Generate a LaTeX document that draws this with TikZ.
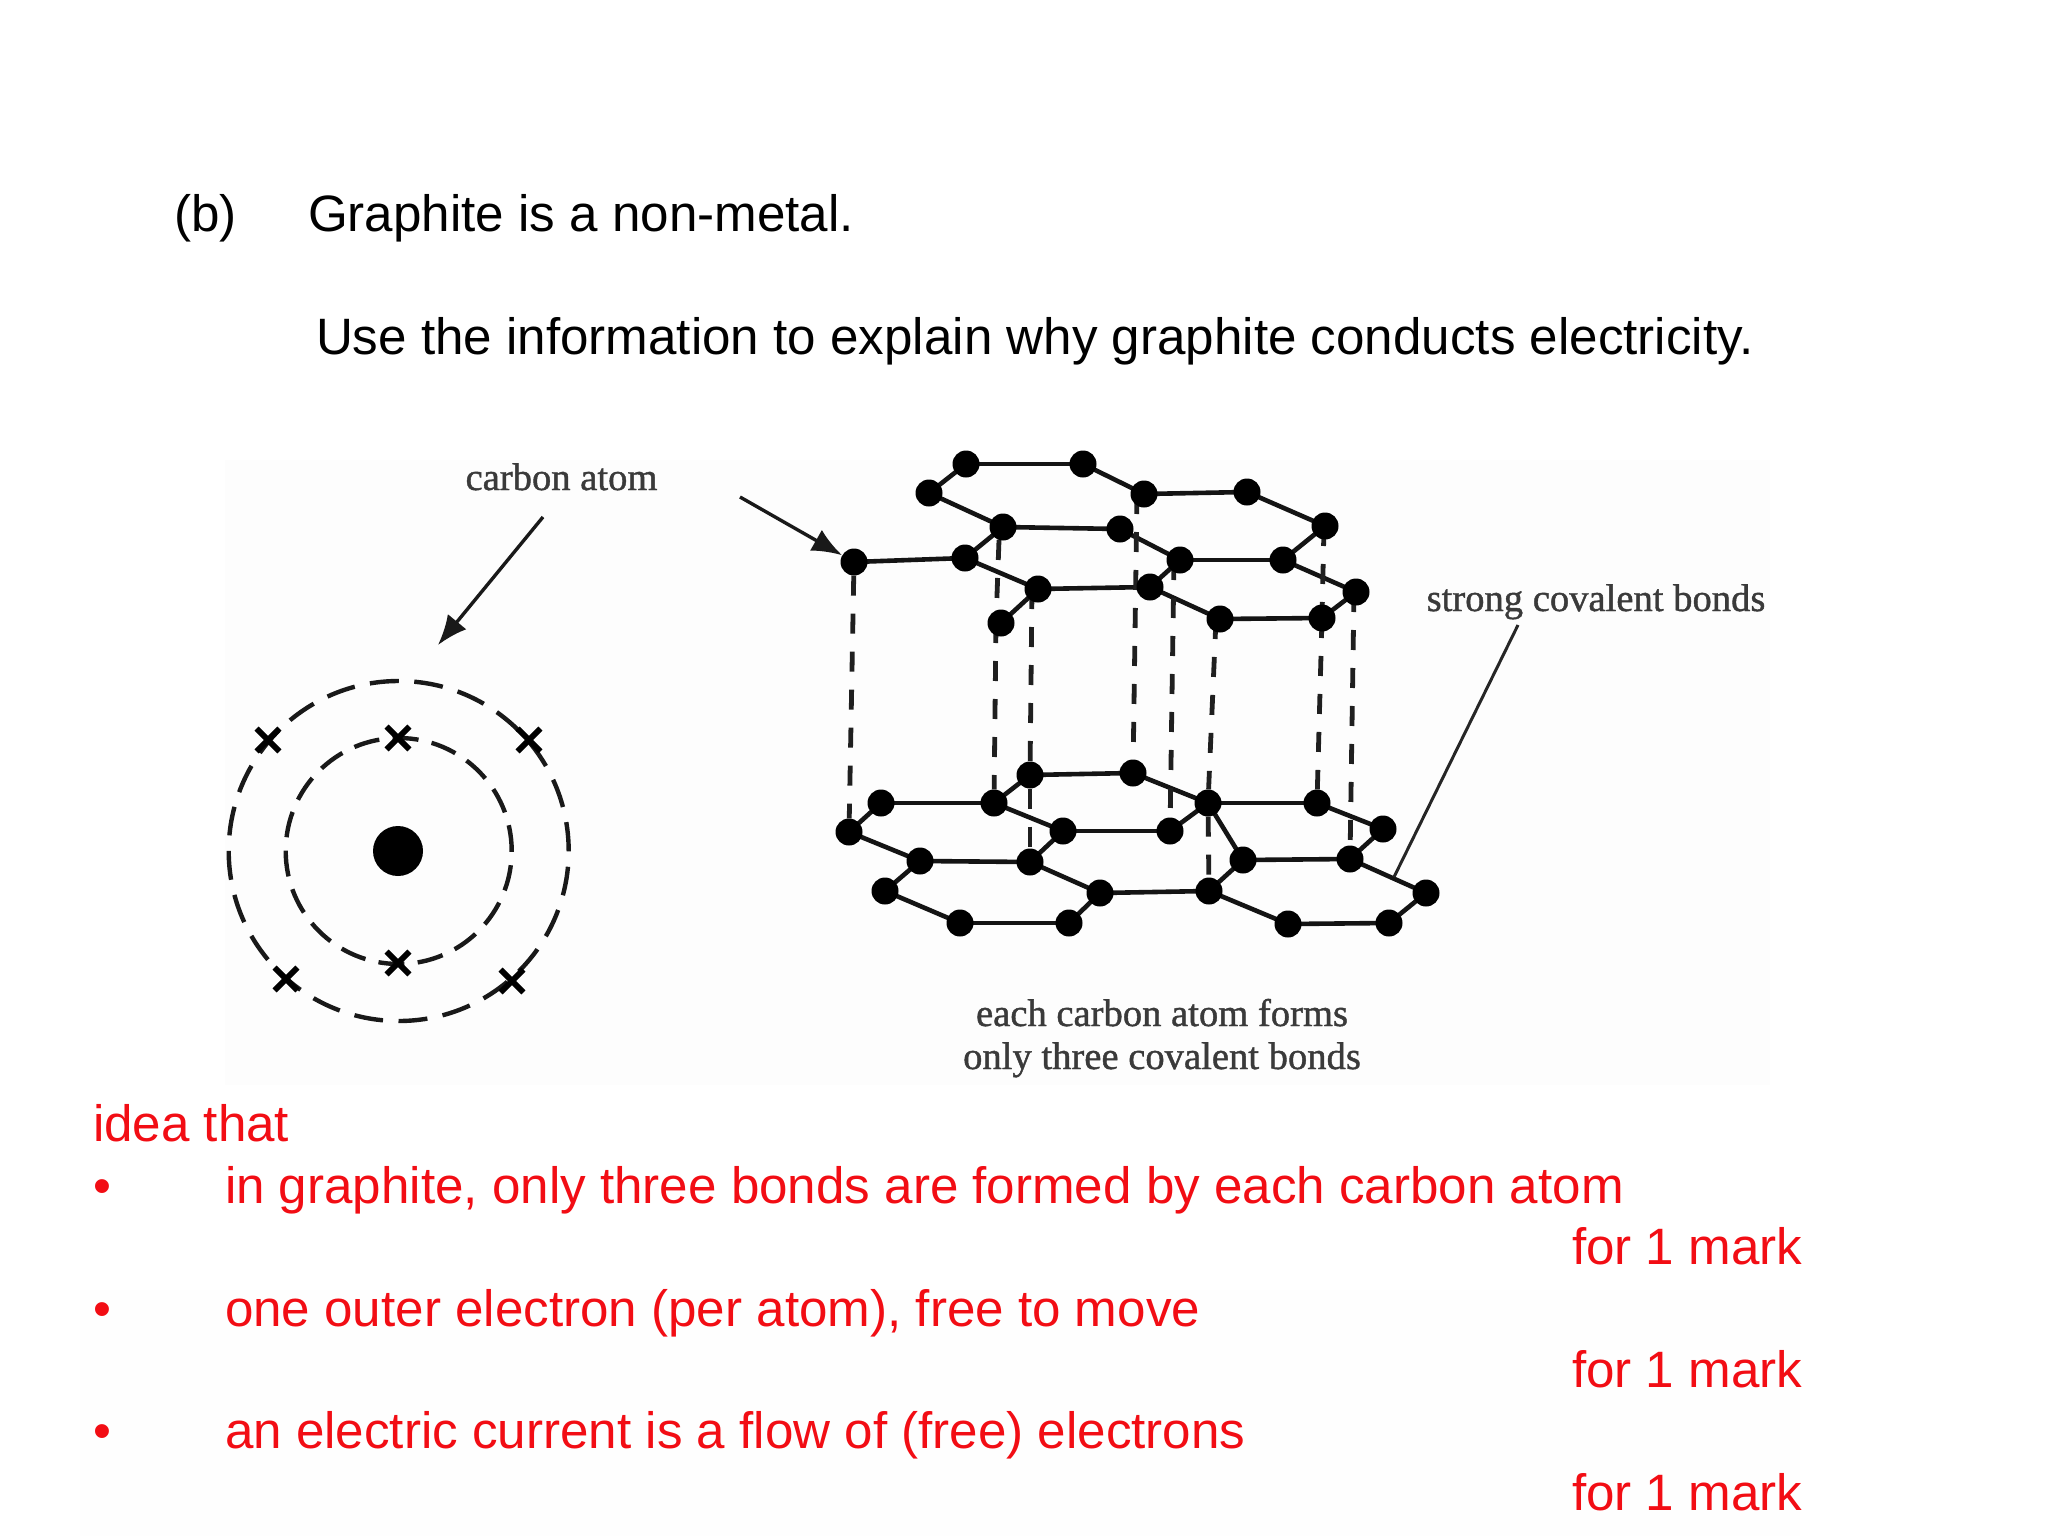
\documentclass[tikz,border=0pt]{standalone}
\usepackage{fontspec}
\setmainfont{Liberation Sans}
\newfontfamily\labfont[FakeBold=1.1]{Liberation Serif}
\usetikzlibrary{arrows.meta,shapes.misc,backgrounds}
\definecolor{ansred}{HTML}{F20D14}
\definecolor{labgrey}{HTML}{3A3A3A}
\tikzset{
  txt/.style={anchor=base west,inner sep=0pt,outer sep=0pt,font=\fontsize{51.15}{60}\selectfont,text=black},
  ans/.style={txt,text=ansred},
  lab/.style={anchor=base,inner sep=0pt,outer sep=0pt,font=\labfont\fontsize{38.6}{44}\selectfont,text=labgrey},
  atom/.style={circle,fill=black,inner sep=0pt,minimum size=27pt},
  bond/.style={line width=4.6pt,black!92},
  vdash/.style={line width=4.8pt,black!88,dash pattern=on 20pt off 18pt},
  ringa/.style={circle,draw=black!90,line width=4.4pt,inner sep=0pt,minimum size=340pt,dash pattern=on 29pt off 15.5pt},
  ringb/.style={circle,draw=black!90,line width=4.4pt,inner sep=0pt,minimum size=226pt,dash pattern=on 26pt off 13.4pt},
  elec/.style={cross out,draw=black,line width=5.8pt,inner sep=0pt,minimum size=17pt},
  thinline/.style={line width=3pt,black!85},
  pointer/.style={line width=3.4pt,black!90,-{Latex[length=30pt,width=24pt]}}
}
\begin{document}
\begin{tikzpicture}[x=1pt,y=-1pt]
\useasboundingbox (0,0) rectangle (2048,1536);
% question text
\node[txt] (qb) at (174,231) {(b)};
\node[txt] (q1) at (308,231) {Graphite is a non-metal.};
\node[txt] (q2) at (316,354) {Use the information to explain why graphite conducts electricity.};
% atom diagram
\node[ringa] (outer) at (398.7,851) {};
\node[ringb] (inner) at (398.7,851) {};
\node[circle,fill=black,inner sep=0pt,minimum size=50pt] (nuc) at (398,851) {};
\foreach \n/\p in {e1/{268,740},e2/{529,740},e3/{286,979},e4/{512,981},e5/{398,738},e6/{398,963}}
  \node[elec] (\n) at (\p) {};
\node[lab] (lcarbon) at (561.5,490) {carbon atom};
\coordinate (arrAs) at (543,517);
\coordinate (arrAe) at (438,645);
\draw[pointer] (arrAs) -- (arrAe);
% upper sheet atoms
\foreach \n/\p in {a1/{966,464},a2/{1083,464},a3/{1144,494},a4/{1247,492},a5/{1325,526},a6/{929,493},a7/{1003,527},a8/{1120,529},a9/{1180,560},a10/{1283,560},a11/{1356,592},a12/{965,558},a13/{854,562},a14/{1038,589},a15/{1150,587},a16/{1220,619},a17/{1322,618},a18/{1001,623}}
  \node[atom] (\n) at (\p) {};
% lower sheet atoms
\foreach \n/\p in {b1/{849,832},b2/{881,803},b3/{994,803},b4/{1030,775},b5/{1133,773},b6/{1208,803},b7/{1317,803},b8/{1383,829},b9/{1063,831},b10/{1170,831},b11/{920,861},b12/{1030,862},b13/{1243,860},b14/{1350,859},b15/{1100,893},b16/{1209,891},b17/{1426,893},b18/{885,891},b19/{960,923},b20/{1069,923},b21/{1288,924},b22/{1389,923}}
  \node[atom] (\n) at (\p) {};
% upper ends of the vertical dashes
\foreach \n/\p in {ta3/{1137,494},ta14/{1032,589},ta9/{1174,560},ta16/{1216,619},ta17/{1322,618},ta11/{1354,592},ta18/{996,623},ta7/{999,540},ta5/{1324,526}}
  \coordinate (\n) at (\p);
\begin{scope}[on background layer]
\fill[white] (0,0) rectangle (2048,1536);
\fill[black!0.8] (225,460) rectangle (1770,1085);
\fill[black!0.4] (80,1290) rectangle (1800,1536);
\foreach \u/\v in {a6/a1,a1/a2,a2/a3,a3/a4,a4/a5,a6/a7,a7/a8,a8/a9,a9/a10,a10/a11,a5/a10,a7/a12,a12/a13,a12/a14,a14/a15,a15/a9,a15/a16,a16/a17,a17/a11,a14/a18,
  b1/b2,b2/b3,b3/b4,b4/b5,b5/b6,b6/b7,b7/b8,b8/b14,b3/b9,b9/b10,b10/b6,b1/b11,b11/b12,b12/b9,b12/b15,b15/b16,b16/b13,b13/b14,b6/b13,b14/b17,b17/b22,b22/b21,b21/b16,b11/b18,b18/b19,b19/b20,b20/b15}
  \draw[bond] (\u.center) -- (\v.center);
\foreach \u/\v in {a13/b1,ta18/b3,ta14/b4,b4/b12,ta3/b5,ta9/b10,ta16/b6,b6/b16,ta17/b7,ta11/b14,ta7/ta18,ta5/ta17}
  \draw[vdash] (\u) -- (\v);
\end{scope}
% labels and pointers
\coordinate (arrBs) at (740,497);
\draw[pointer] (arrBs) -- (a13);
\node[lab] (lstrong) at (1596,611) {strong covalent bonds};
\coordinate (covS) at (1518,625);
\coordinate (covE) at (1394,877);
\draw[thinline] (covS) -- (covE);
\node[lab] (leach) at (1162,1026) {each carbon atom forms};
\node[lab] (lonly) at (1162,1069) {only three covalent bonds};
% answer text
\node[ans] (r0) at (93,1141) {idea that};
\node[ans] (b1t) at (93,1203) {•};
\node[ans] (r1) at (225,1203) {in graphite, only three bonds are formed by each carbon atom};
\node[ans] (m1) at (1572,1264) {for 1 mark};
\node[ans] (b2t) at (93,1326) {•};
\node[ans] (r2) at (225,1326) {one outer electron (per atom), free to move};
\node[ans] (m2) at (1572,1387) {for 1 mark};
\node[ans] (b3t) at (93,1448) {•};
\node[ans] (r3) at (225,1448) {an electric current is a flow of (free) electrons};
\node[ans] (m3) at (1572,1510) {for 1 mark};
\end{tikzpicture}
\end{document}
